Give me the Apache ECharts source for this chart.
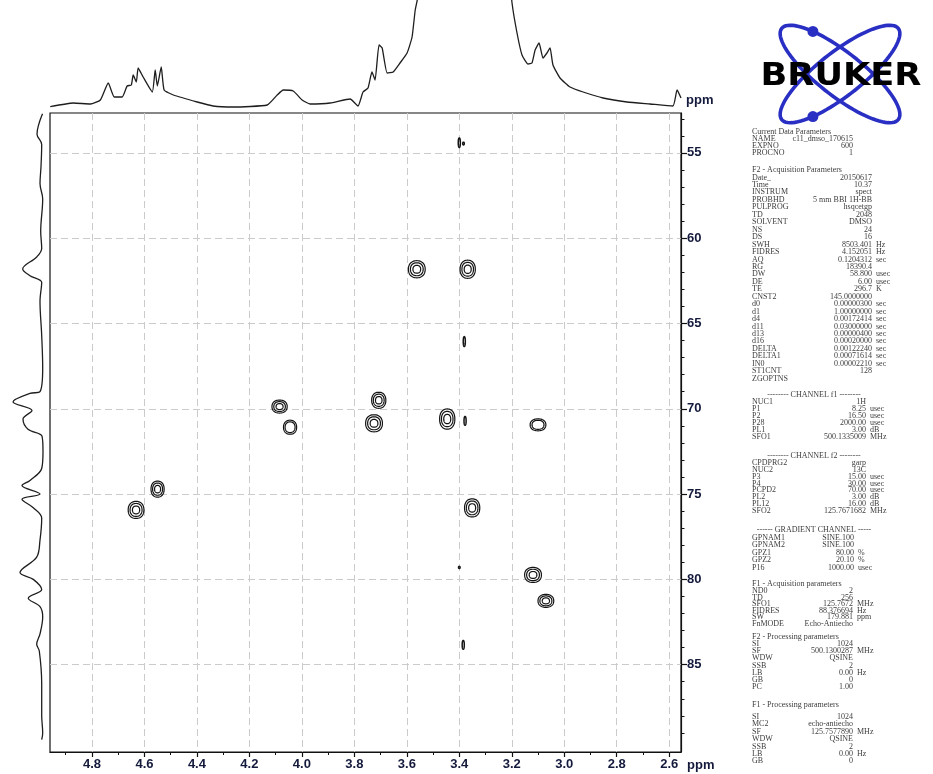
<!DOCTYPE html>
<html>
<head>
<meta charset="utf-8">
<script src="https://cdn.jsdelivr.net/npm/echarts@6/dist/echarts.min.js"></script>
<style>
  html, body { margin: 0; padding: 0; background: #fff; }
  #chart { width: 933px; height: 774px; }
</style>
</head>
<body>
<div id="chart"></div>
<script>
// ---- axis ticks ----
const xTickLabels = [4.8, 4.6, 4.4, 4.2, 4.0, 3.8, 3.6, 3.4, 3.2, 3.0, 2.8, 2.6];
const xMinorTicks = [4.9, 4.7, 4.5, 4.3, 4.1, 3.9, 3.7, 3.5, 3.3, 3.1, 2.9, 2.7];
const yTickLabels = [55, 60, 65, 70, 75, 80, 85];
const yMinorTicks = [53, 54, 56, 57, 58, 59, 61, 62, 63, 64, 66, 67, 68, 69, 71, 72, 73, 74,
                     76, 77, 78, 79, 81, 82, 83, 84, 86, 87, 88, 89];

// ---- F2 (1H) projection: chemical shift (ppm) and intensity ----
const topPpm = [4.959, 4.871, 4.806, 4.768, 4.738, 4.715, 4.685, 4.666, 4.650, 4.643, 4.631, 4.624,
                4.605, 4.570, 4.559, 4.551, 4.536, 4.525, 4.490, 4.399, 4.338, 4.262, 4.132, 4.094,
                4.071, 4.033, 3.999, 3.969, 3.892, 3.816, 3.786, 3.767, 3.748, 3.733, 3.721, 3.706,
                3.694, 3.675, 3.652, 3.626, 3.599, 3.580, 3.568, 3.557, 3.50, 3.40, 3.30, 3.22,
                3.199, 3.180, 3.161, 3.138, 3.123, 3.111, 3.096, 3.081, 3.066, 3.054, 3.043, 3.016,
                2.978, 2.928, 2.852, 2.761, 2.673, 2.586, 2.570, 2.555];
const topInt = [1.3, 5, 4, 8, 25, 11, 11, 22, 23, 33, 26, 40,
                31, 16, 38, 22, 41, 18, 13, 6, 2, 1, 3, 13,
                18, 17, 8, 4, 5, 9, 2, 16, 20, 36, 28, 63,
                60, 35, 36, 45, 55, 71, 98, 112, 200, 320, 280, 160,
                105, 75, 53, 44, 45, 58, 65, 50, 55, 60, 43, 30,
                21, 16, 10, 6, 4, 2, 18, 10];

// ---- F1 (13C) projection: chemical shift (ppm) and intensity ----
const leftPpm = [52.7, 53.9, 54.5, 55.8, 56.8, 57.7, 59.6, 60.6, 61.1, 61.8, 62.2, 62.6, 63.7,
                 65.7, 67.6, 69.0, 69.1, 69.6, 70.1, 70.6, 71.2, 71.6, 72.5, 73.5, 74.2, 74.5,
                 75.0, 75.3, 75.8, 76.4, 77.7, 78.7, 79.6, 80.0, 80.6, 81.1, 81.6, 82.2, 83.2,
                 83.8, 84.2, 86.1, 88.0, 89.0, 89.4];
const leftInt = [0.5, 6, 1.3, 2, 3, 0.3, 2.3, 1.3, 6.3, 20.3, 13, 1.3, 3,
                 1.3, 0.3, 3, 13, 30, 11, 20, 15, 1, 0, 1.3, 13, 21,
                 3, 21, 9.7, 1.3, 3, 6.3, 23, 9.7, 1.3, 14.7, 3, 0.3, 3,
                 6.3, 3.7, 1.3, 1.3, 0.3, 1.3];

// ---- HSQC cross peaks: 1H shift, 13C shift, half-widths (ppm), contour levels ----
const peakH  = [3.562, 3.368, 4.085, 4.045, 3.707, 3.725, 3.446, 3.100, 4.550, 4.632, 3.351, 3.119, 3.070,
                3.381, 3.378, 3.385, 3.400, 3.384, 3.400];
const peakC  = [61.82, 61.82, 69.87, 71.08, 69.50, 70.85, 70.60, 70.94, 74.71, 75.93, 75.81, 79.74, 81.26,
                66.06, 70.71, 83.84, 54.40, 54.45, 79.30];
const peakWH = [0.032, 0.029, 0.029, 0.025, 0.027, 0.032, 0.029, 0.030, 0.025, 0.030, 0.029, 0.032, 0.030,
                0.004, 0.004, 0.004, 0.004, 0.003, 0.003];
const peakWC = [0.50, 0.53, 0.38, 0.41, 0.47, 0.50, 0.59, 0.35, 0.47, 0.50, 0.53, 0.44, 0.38,
                0.29, 0.26, 0.26, 0.28, 0.08, 0.06];
const peakLevels = [3, 3, 3, 2, 3, 3, 3, 2, 3, 3, 3, 3, 3, 1, 1, 1, 1, 1, 1];

// ---- acquisition / processing parameter listing ----
const paramGroups = [
  { title: 'Current Data Parameters', rows: ['NAME|c11_dmso_170615|', 'EXPNO|600|', 'PROCNO|1|'] },
  { title: 'F2 - Acquisition Parameters', rows: [
    'Date_|20150617|', 'Time|10.37|', 'INSTRUM|spect|', 'PROBHD|5 mm BBI 1H-BB|', 'PULPROG|hsqcetgp|',
    'TD|2048|', 'SOLVENT|DMSO|', 'NS|24|', 'DS|16|', 'SWH|8503.401|Hz', 'FIDRES|4.152051|Hz',
    'AQ|0.1204312|sec', 'RG|18390.4|', 'DW|58.800|usec', 'DE|6.00|usec', 'TE|296.7|K',
    'CNST2|145.0000000|', 'd0|0.00000300|sec', 'd1|1.00000000|sec', 'd4|0.00172414|sec',
    'd11|0.03000000|sec', 'd13|0.00000400|sec', 'd16|0.00020000|sec', 'DELTA|0.00122240|sec',
    'DELTA1|0.00071614|sec', 'IN0|0.00002210|sec', 'ST1CNT|128|', 'ZGOPTNS||'] },
  { title: '-------- CHANNEL f1 --------', center: true, rows: [
    'NUC1|1H|', 'P1|8.25|usec', 'P2|16.50|usec', 'P28|2000.00|usec', 'PL1|3.00|dB', 'SFO1|500.1335009|MHz'] },
  { title: '-------- CHANNEL f2 --------', center: true, rows: [
    'CPDPRG2|garp|', 'NUC2|13C|', 'P3|15.00|usec', 'P4|30.00|usec', 'PCPD2|70.00|usec',
    'PL2|3.00|dB', 'PL12|16.00|dB', 'SFO2|125.7671682|MHz'] },
  { title: '------ GRADIENT CHANNEL -----', center: true, rows: [
    'GPNAM1|SINE.100|', 'GPNAM2|SINE.100|', 'GPZ1|80.00|%', 'GPZ2|20.10|%', 'P16|1000.00|usec'] },
  { title: 'F1 - Acquisition parameters', rows: [
    'ND0|2|', 'TD|256|', 'SFO1|125.7672|MHz', 'FIDRES|88.376694|Hz', 'SW|179.881|ppm', 'FnMODE|Echo-Antiecho|'] },
  { title: 'F2 - Processing parameters', rows: [
    'SI|1024|', 'SF|500.1300287|MHz', 'WDW|QSINE|', 'SSB|2|', 'LB|0.00|Hz', 'GB|0|', 'PC|1.00|'] },
  { title: 'F1 - Processing parameters', rows: [
    'SI|1024|', 'MC2|echo-antiecho|', 'SF|125.7577890|MHz', 'WDW|QSINE|', 'SSB|2|', 'LB|0.00|Hz', 'GB|0|'] }
];
// layout of each listing block: header y, first row y, row step, value column right edge
const paramLayout = [
  [132, 139, 7.0, 853], [170, 177.5, 7.45, 872], [395, 402, 7.0, 866], [456, 463, 6.85, 866],
  [530, 537.5, 7.5, 854], [584, 591, 6.6, 853], [637, 644, 7.2, 853], [705, 717, 7.4, 853]
];

// ---- plot geometry ----
const X_MIN = 2.555, X_MAX = 4.96;
const Y_MIN = 52.66, Y_MAX = 90.12;
const MAIN = { left: 50, top: 113, width: 631, height: 639 };
const LABEL_FONT = { fontFamily: 'Liberation Sans', fontWeight: 'bold', fontSize: 13, color: '#141a3c' };

function superEllipse(cx, cy, rx, ry, n, steps) {
  const pts = [];
  for (let i = 0; i < steps; i++) {
    const t = i / steps * Math.PI * 2;
    const c = Math.cos(t), s = Math.sin(t);
    pts.push([cx + rx * Math.sign(c) * Math.pow(Math.abs(c), 2 / n),
              cy + ry * Math.sign(s) * Math.pow(Math.abs(s), 2 / n)]);
  }
  return pts;
}

function rotatedEllipse(cx, cy, a, b, angDeg, steps) {
  const th = angDeg * Math.PI / 180, pts = [];
  for (let i = 0; i < steps; i++) {
    const t = i / steps * Math.PI * 2;
    pts.push([cx + a * Math.cos(t) * Math.cos(th) - b * Math.sin(t) * Math.sin(th),
              cy + a * Math.cos(t) * Math.sin(th) + b * Math.sin(t) * Math.cos(th)]);
  }
  return pts;
}

function ellipsePoint(cx, cy, a, b, angDeg, tDeg) {
  const th = angDeg * Math.PI / 180, t = tDeg * Math.PI / 180;
  return [cx + a * Math.cos(t) * Math.cos(th) - b * Math.sin(t) * Math.sin(th),
          cy + a * Math.cos(t) * Math.sin(th) + b * Math.sin(t) * Math.cos(th)];
}

// contour rings of each cross peak
const levelScale = [1, 0.76, 0.46];
function renderPeak(params, api) {
  const c = api.coord([api.value(0), api.value(1)]);
  const r = api.size([api.value(2), api.value(3)]);
  const n = api.value(4);
  const children = [];
  for (let k = 0; k < n; k++) {
    const f = levelScale[k];
    children.push({
      type: 'polygon',
      shape: { points: superEllipse(c[0], c[1], Math.max(r[0] * f, 0.6), Math.max(r[1] * f, 0.6), 2.25, 56) },
      style: { fill: 'none', stroke: '#141414', lineWidth: n === 1 ? 1.5 : 1.2 }
    });
  }
  return { type: 'group', children };
}

// ---- side graphics: logo, parameter listing, axis units ----
function buildGraphics() {
  const g = [];
  const cx = 840, cy = 74, a = 74, b = 22;
  g.push({ type: 'polygon', shape: { points: rotatedEllipse(cx, cy, a, b, 38, 90) },
           style: { fill: 'none', stroke: '#2a2fc4', lineWidth: 3.6 }, z: 10 });
  g.push({ type: 'polygon', shape: { points: rotatedEllipse(cx, cy, a, b, -38, 90) },
           style: { fill: 'none', stroke: '#2a2fc4', lineWidth: 3.6 }, z: 10 });
  const d1 = ellipsePoint(cx, cy, a, b, 38, -130);
  const d2 = ellipsePoint(cx, cy, a, b, -38, 130);
  g.push({ type: 'circle', shape: { cx: d1[0], cy: d1[1], r: 5.5 }, style: { fill: '#2a2fc4' }, z: 11 });
  g.push({ type: 'circle', shape: { cx: d2[0], cy: d2[1], r: 5.5 }, style: { fill: '#2a2fc4' }, z: 11 });
  g.push({ type: 'text', x: cx + 1, y: 77, scaleX: 1.1, z: 12,
           style: { text: 'BRUKER', fontFamily: 'DejaVu Sans', fontWeight: 'bold', fontSize: 32,
                    fill: '#000', align: 'center', verticalAlign: 'middle' } });

  const pfont = { fontFamily: 'Liberation Serif', fontSize: 8, fill: '#3c3c3c', verticalAlign: 'middle' };
  paramGroups.forEach((grp, gi) => {
    const [hy, fy, step, vx] = paramLayout[gi];
    g.push({ type: 'text', x: grp.center ? 814 : 752, y: hy,
             style: Object.assign({ text: grp.title, align: grp.center ? 'center' : 'left' }, pfont) });
    grp.rows.forEach((row, i) => {
      const [lab, val, unit] = row.split('|');
      const y = fy + i * step;
      g.push({ type: 'text', x: 752, y, style: Object.assign({ text: lab, align: 'left' }, pfont) });
      if (val) g.push({ type: 'text', x: vx, y, style: Object.assign({ text: val, align: 'right' }, pfont) });
      if (unit) g.push({ type: 'text', x: vx + 4, y, style: Object.assign({ text: unit, align: 'left' }, pfont) });
    });
  });

  const uf = { fontFamily: LABEL_FONT.fontFamily, fontWeight: 'bold', fontSize: 13, fill: LABEL_FONT.color,
               verticalAlign: 'middle', align: 'left' };
  g.push({ type: 'text', x: 687, y: 765, style: Object.assign({ text: 'ppm' }, uf) });
  g.push({ type: 'text', x: 686, y: 100, style: Object.assign({ text: 'ppm' }, uf) });
  return g;
}

const chart = echarts.init(document.getElementById('chart'), null, { renderer: 'canvas' });

const peakData = peakH.map((h, i) => [h, peakC[i], peakWH[i], peakWC[i], peakLevels[i]]);

chart.setOption({
  animation: false,
  backgroundColor: '#fff',
  grid: [
    Object.assign({ show: true, borderColor: '#111', borderWidth: 1.2, backgroundColor: '#fff' }, MAIN),
    { left: 50, top: 0, width: 631, height: 108 },
    { left: 0, top: 113, width: 43, height: 639 },
    Object.assign({ show: false }, MAIN)
  ],
  xAxis: [
    { gridIndex: 0, type: 'value', min: X_MIN, max: X_MAX, inverse: true, position: 'bottom',
      axisLine: { show: true, onZero: false, lineStyle: { color: '#111', width: 1.2 } },
      axisTick: { show: true, customValues: xTickLabels, length: 5, lineStyle: { color: '#111', width: 1.2 } },
      axisLabel: Object.assign({ show: true, customValues: xTickLabels, margin: 6,
                                 formatter: v => Number(v).toFixed(1) }, LABEL_FONT),
      splitLine: { show: true, lineStyle: { color: '#cbcbcb', type: [7, 4], width: 1 } } },
    { gridIndex: 1, type: 'value', min: X_MIN, max: X_MAX, inverse: true, show: false },
    { gridIndex: 2, type: 'value', min: 0, max: 43, inverse: true, show: false },
    { gridIndex: 3, type: 'value', min: X_MIN, max: X_MAX, inverse: true, position: 'bottom',
      axisLine: { show: false, onZero: false },
      axisTick: { show: true, customValues: xMinorTicks, length: 3, lineStyle: { color: '#111', width: 1 } },
      axisLabel: { show: false }, splitLine: { show: false } }
  ],
  yAxis: [
    { gridIndex: 0, type: 'value', min: Y_MIN, max: Y_MAX, inverse: true, position: 'right',
      axisLine: { show: true, onZero: false, lineStyle: { color: '#111', width: 1.2 } },
      axisTick: { show: true, customValues: yTickLabels, length: 6, lineStyle: { color: '#111', width: 1.2 } },
      axisLabel: Object.assign({ show: true, customValues: yTickLabels, margin: 6 }, LABEL_FONT),
      splitLine: { show: true, lineStyle: { color: '#cbcbcb', type: [7, 4], width: 1 } } },
    { gridIndex: 1, type: 'value', min: 0, max: 108, show: false },
    { gridIndex: 2, type: 'value', min: Y_MIN, max: Y_MAX, inverse: true, show: false },
    { gridIndex: 3, type: 'value', min: Y_MIN, max: Y_MAX, inverse: true, position: 'right',
      axisLine: { show: false, onZero: false },
      axisTick: { show: true, customValues: yMinorTicks, length: 3.5, lineStyle: { color: '#111', width: 1 } },
      axisLabel: { show: false }, splitLine: { show: false } }
  ],
  series: [
    { type: 'custom', name: 'HSQC', xAxisIndex: 0, yAxisIndex: 0, clip: true,
      renderItem: renderPeak, encode: { x: 0, y: 1 }, data: peakData, z: 5 },
    { type: 'line', name: 'F2 projection', xAxisIndex: 1, yAxisIndex: 1, clip: true,
      showSymbol: false, symbol: 'none', smooth: 0.15,
      lineStyle: { color: '#1e1e1e', width: 1.3 },
      data: topPpm.map((p, i) => [p, topInt[i]]) },
    { type: 'line', name: 'F1 projection', xAxisIndex: 2, yAxisIndex: 2, clip: true,
      showSymbol: false, symbol: 'none', smooth: 0.35,
      lineStyle: { color: '#1e1e1e', width: 1.3 },
      data: leftPpm.map((p, i) => [leftInt[i], p]) }
  ],
  graphic: buildGraphics()
});
</script>
</body>
</html>
